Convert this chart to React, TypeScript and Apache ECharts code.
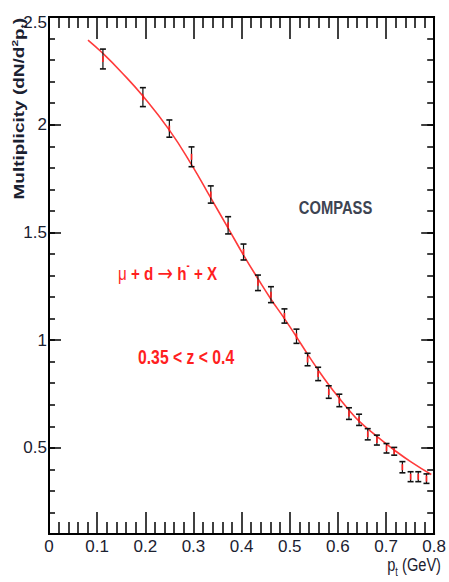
import React, { useEffect, useRef } from "react";
import * as echarts from "echarts";

// Measured data points (p_t in GeV, multiplicity, error)
const ptValues = [0.112, 0.195, 0.25, 0.296, 0.336, 0.372, 0.404, 0.434, 0.461, 0.489, 0.514, 0.537, 0.559, 0.581, 0.603, 0.623, 0.644, 0.662, 0.681, 0.701, 0.717, 0.734, 0.751, 0.767, 0.784];
const multiplicity = [2.305, 2.128, 1.982, 1.851, 1.676, 1.533, 1.409, 1.266, 1.211, 1.112, 1.018, 0.91, 0.843, 0.759, 0.72, 0.659, 0.63, 0.563, 0.536, 0.498, 0.484, 0.41, 0.366, 0.366, 0.357];
const errors = [0.046, 0.044, 0.04, 0.046, 0.04, 0.04, 0.037, 0.036, 0.037, 0.033, 0.033, 0.029, 0.031, 0.029, 0.029, 0.027, 0.026, 0.026, 0.023, 0.022, 0.018, 0.026, 0.023, 0.023, 0.022];

// Fit curve
const fitPt = [0.081, 0.11, 0.15, 0.195, 0.25, 0.296, 0.336, 0.372, 0.404, 0.434, 0.461, 0.489, 0.514, 0.537, 0.559, 0.581, 0.603, 0.623, 0.644, 0.681, 0.717, 0.751, 0.794];
const fitVal = [2.393, 2.335, 2.245, 2.133, 1.975, 1.815, 1.66, 1.52, 1.395, 1.285, 1.19, 1.1, 1.015, 0.935, 0.862, 0.793, 0.73, 0.676, 0.624, 0.553, 0.49, 0.436, 0.376];

const yMajorTicks = [0.5, 1, 1.5, 2, 2.5];

const NARROW = "'Liberation Sans Narrow', 'Noto Sans Condensed', 'Arial Narrow', 'Liberation Sans', Arial, sans-serif";
const SANS = "'Liberation Sans', Arial, sans-serif";
const LABEL_COLOR = "#1b2130";
const RED = "#ff1f1f";

export default function App() {
  const ref = useRef<HTMLDivElement>(null);
  useEffect(() => {
    if (!ref.current) return;
    const chart = echarts.init(ref.current, null, { renderer: "svg" });
    const points = ptValues.map((x, i) => [x, multiplicity[i], errors[i]]);
    const fit = fitPt.map((x, i) => [x, fitVal[i]]);
    const axisLine = { show: true, onZero: false, lineStyle: { color: "#000", width: 2 } };
    const tickStyle = { color: "#000", width: 1.5 };
    const baseY = { type: "value", min: 0.1, max: 2.5, splitLine: { show: false }, axisLine };
    const option: any = {
      animation: false,
      grid: { left: 49, right: 11, top: 17, bottom: 48 },
      xAxis: [
        {
          type: "value", min: 0, max: 0.8, interval: 0.1, position: "bottom",
          axisLine, splitLine: { show: false },
          axisTick: { inside: true, length: 22, lineStyle: tickStyle },
          minorTick: { show: true, splitNumber: 5, length: 12, lineStyle: tickStyle },
          axisLabel: { margin: 4, fontSize: 17, fontFamily: NARROW, color: LABEL_COLOR, showMaxLabel: true, showMinLabel: true },
        },
        {
          type: "value", min: 0, max: 0.8, interval: 0.1, position: "top",
          axisLine, splitLine: { show: false },
          axisTick: { inside: true, length: 22, lineStyle: tickStyle },
          minorTick: { show: true, splitNumber: 5, length: 11, lineStyle: tickStyle },
          axisLabel: { show: false },
        },
      ],
      yAxis: [
        {
          ...baseY, position: "left",
          axisTick: { inside: true, length: 12, lineStyle: tickStyle, customValues: yMajorTicks },
          axisLabel: {
            customValues: yMajorTicks, margin: 2, fontSize: 17, fontFamily: NARROW, color: LABEL_COLOR,
            formatter: (v: number) => (Math.abs(v - 2.5) < 1e-6 ? "{t|2.5}" : String(v)),
            rich: { t: { fontSize: 17, fontFamily: NARROW, color: LABEL_COLOR, padding: [10, 0, 0, 0] } },
          },
        },
        {
          ...baseY, position: "left", interval: 0.1,
          axisTick: { inside: true, length: 6, lineStyle: tickStyle },
          axisLabel: { show: false },
        },
        {
          ...baseY, position: "right",
          axisTick: { inside: true, length: 13, lineStyle: tickStyle, customValues: yMajorTicks },
          axisLabel: { show: false },
        },
        {
          ...baseY, position: "right", interval: 0.1,
          axisTick: { inside: true, length: 7, lineStyle: tickStyle },
          axisLabel: { show: false },
        },
      ],
      series: [
        {
          type: "line", data: fit, smooth: true, showSymbol: false, symbol: "none",
          lineStyle: { color: "#ff3b3b", width: 1.6 }, xAxisIndex: 0, yAxisIndex: 0, z: 2,
        },
        {
          type: "custom", data: points, xAxisIndex: 0, yAxisIndex: 0, z: 3,
          renderItem: (params: any, api: any) => {
            const x = api.value(0), y = api.value(1), e = api.value(2);
            const top = api.coord([x, y + e]);
            const bot = api.coord([x, y - e]);
            const c = api.coord([x, y]);
            const hw = 3;
            const dark = "#111";
            return {
              type: "group",
              children: [
                { type: "line", shape: { x1: top[0], y1: top[1], x2: bot[0], y2: bot[1] }, style: { stroke: dark, lineWidth: 1.2 } },
                { type: "line", shape: { x1: top[0] - hw, y1: top[1], x2: top[0] + hw, y2: top[1] }, style: { stroke: dark, lineWidth: 1.6 } },
                { type: "line", shape: { x1: bot[0] - hw, y1: bot[1], x2: bot[0] + hw, y2: bot[1] }, style: { stroke: dark, lineWidth: 1.6 } },
                { type: "line", shape: { x1: c[0], y1: c[1] - 3, x2: c[0], y2: c[1] + 3 }, style: { stroke: RED, lineWidth: 1.6 } },
              ],
            };
          },
        },
      ],
      graphic: [
        {
          type: "text", x: 19.5, y: 18, rotation: Math.PI / 2, scaleY: 0.75,
          style: {
            text: "{a|Multiplicity (dN/d}{s|2}{a|p}{b|t}{a|)}",
            align: "right", verticalAlign: "middle",
            rich: {
              a: { fontSize: 19, fontWeight: "bold", fontFamily: SANS, fill: LABEL_COLOR, lineHeight: 24 },
              s: { fontSize: 12, fontWeight: "bold", fontFamily: SANS, fill: LABEL_COLOR, verticalAlign: "top", lineHeight: 24 },
              b: { fontSize: 12, fontWeight: "bold", fontFamily: SANS, fill: LABEL_COLOR, verticalAlign: "bottom", lineHeight: 24 },
            },
          },
        },
        {
          type: "text", x: 441, y: 565, scaleX: 0.77,
          style: {
            text: "{a|p}{b|t}{a| (GeV)}",
            align: "right", verticalAlign: "middle",
            rich: {
              a: { fontSize: 19, fontFamily: SANS, fill: LABEL_COLOR, lineHeight: 26 },
              b: { fontSize: 12, fontFamily: SANS, fill: LABEL_COLOR, verticalAlign: "bottom", lineHeight: 26 },
            },
          },
        },
        {
          type: "text", x: 335.5, y: 207, scaleX: 0.82,
          style: { text: "COMPASS", fontSize: 18, fontWeight: "bold", fontFamily: SANS, fill: "#3d4452", align: "center", verticalAlign: "middle" },
        },
        {
          type: "text", x: 118, y: 273, scaleX: 0.8,
          style: {
            text: "{m|μ}{a| + d }{r|→}{a| h}{s|-}{a| + X}",
            align: "left", verticalAlign: "middle",
            rich: {
              a: { fontSize: 19, fontWeight: "bold", fontFamily: SANS, fill: RED, lineHeight: 26 },
              m: { fontSize: 19, fontFamily: SANS, fill: RED, lineHeight: 26 },
              r: { fontSize: 23, fontFamily: "'DejaVu Sans', sans-serif", fill: RED, lineHeight: 26 },
              s: { fontSize: 12, fontWeight: "bold", fontFamily: SANS, fill: RED, verticalAlign: "top", lineHeight: 26 },
            },
          },
        },
        {
          type: "text", x: 138, y: 357, scaleX: 0.75,
          style: { text: "0.35 < z < 0.4", fontSize: 21, fontWeight: "bold", fontFamily: SANS, fill: RED, align: "left", verticalAlign: "middle" },
        },
      ],
    };
    chart.setOption(option);
    return () => chart.dispose();
  }, []);
  return <div ref={ref} style={{ position: "fixed", left: 0, top: 0, width: 449, height: 582, background: "#fff" }} />;
}
